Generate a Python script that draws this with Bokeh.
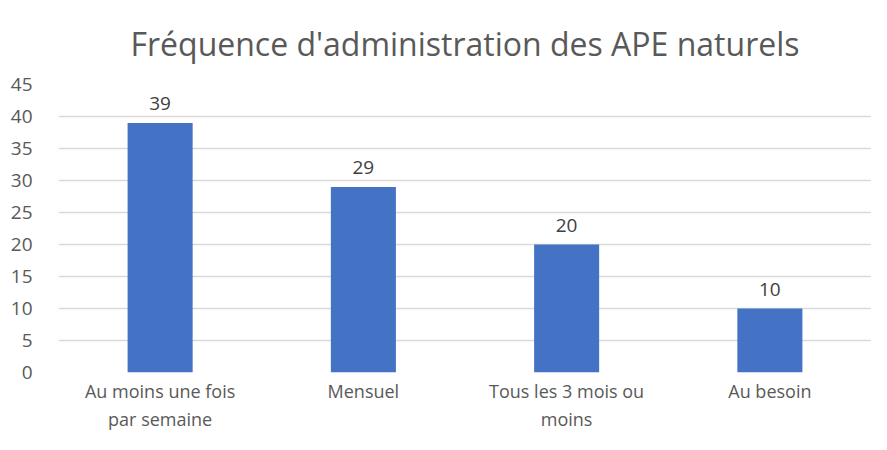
from bokeh.plotting import figure
from bokeh.models import ColumnDataSource, LabelSet, FactorRange, Range1d, SingleIntervalTicker
from bokeh.core.properties import value
from bokeh.embed import file_html
from bokeh.resources import INLINE

categories = ["Au moins une fois\npar semaine", "Mensuel", "Tous les 3 mois ou\nmoins", "Au besoin"]
values = [39, 29, 20, 10]
title_text = "Fréquence d'administration des APE naturels"

src = ColumnDataSource(data=dict(cat=categories, val=values, lbl=[str(v) for v in values]))

p = figure(x_range=FactorRange(*categories, range_padding=0), y_range=Range1d(0, 45),
           width=871, height=434, output_backend="svg", toolbar_location=None,
           min_border_left=58, min_border_right=0, min_border_top=0, min_border_bottom=0)
p.title.text = title_text
p.title.align = "center"
p.title.text_font = "Open Sans"
p.title.text_font_size = "32px"
p.title.text_font_style = "normal"
p.title.text_color = "#595959"
p.title.standoff = 39

p.vbar(x="cat", top="val", width=0.32, source=src, color="#4472C4", line_color=None)

labels = LabelSet(x="cat", y="val", text="lbl", source=src, text_align="center",
                  text_baseline="bottom", y_offset=13, text_font=value("Open Sans"),
                  text_font_size=value("19px"), text_color="#404040")
p.add_layout(labels)

p.outline_line_color = None
p.background_fill_color = "white"
p.border_fill_color = "white"

p.yaxis.ticker = SingleIntervalTicker(interval=5)
p.yaxis.axis_line_color = None
p.yaxis.major_tick_line_color = None
p.yaxis.minor_tick_line_color = None
p.yaxis.major_label_text_font = "Open Sans"
p.yaxis.major_label_text_font_size = "19px"
p.yaxis.major_label_text_color = "#595959"
p.yaxis.major_label_standoff = 20

p.xaxis.axis_line_color = None
p.xaxis.major_tick_line_color = None
p.xaxis.minor_tick_line_color = None
p.xaxis.major_tick_out = 0
p.xaxis.major_tick_in = 0
p.xaxis.major_label_text_font = "Open Sans"
p.xaxis.major_label_text_font_size = "18px"
p.xaxis.major_label_text_color = "#595959"
p.xaxis.major_label_standoff = 6

p.xgrid.grid_line_color = None
p.ygrid.grid_line_color = "#D9D9D9"
p.ygrid.grid_line_width = 1.5

open("out.html", "w").write(file_html(p, INLINE))
